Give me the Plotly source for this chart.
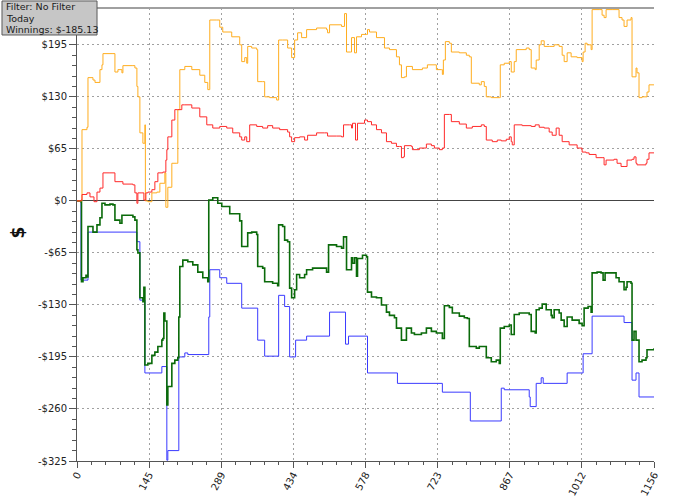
import plotly.graph_objects as go

# session data (x = hand number, y = dollars)
orange_x = [0, 8, 10, 20, 22, 32, 36, 46, 50, 52, 72, 76, 82, 90, 92, 112, 116, 120, 122, 126,
            132, 136, 137, 142, 150, 160, 166, 176, 178, 182, 190, 200, 202, 206, 216, 230, 246,
            256, 262, 266, 280, 286, 292, 310, 326, 330, 336, 340, 342, 350, 360, 362, 372, 376,
            386, 400, 404, 412, 422, 430, 436, 442, 450, 460, 480, 500, 502, 506, 530, 536, 540,
            548, 550, 556, 560, 570, 580, 582, 586, 600, 616, 626, 640, 646, 650, 656, 660, 672,
            692, 702, 720, 730, 732, 734, 738, 746, 750, 766, 780, 786, 790, 806, 810, 816, 820,
            830, 846, 848, 856, 866, 870, 876, 880, 900, 906, 910, 918, 920, 926, 930, 936, 946,
            956, 966, 972, 976, 982, 990, 1002, 1012, 1014, 1018, 1022, 1030, 1032, 1046, 1052,
            1056, 1060, 1072, 1086, 1092, 1096, 1102, 1110, 1112, 1120, 1122, 1126, 1132, 1142,
            1146, 1156]
orange_y = [0, 0, 89, 92, 154, 151, 148, 164, 170, 184, 184, 161, 164, 160, 169, 169, 166, 143, 130,
            85, 72, 95, 0, -1, 10, 11, 22, 35, -8, 17, 47, 47, 114, 164, 168, 164, 157, 148, 139,
            226, 226, 217, 211, 205, 195, 174, 179, 172, 193, 191, 189, 149, 149, 130, 129, 126,
            201, 201, 191, 179, 201, 210, 204, 214, 216, 214, 210, 220, 218, 234, 186, 186, 204,
            185, 205, 208, 208, 214, 211, 204, 191, 189, 180, 170, 154, 155, 168, 164, 166, 170,
            164, 164, 158, 176, 199, 197, 186, 185, 182, 180, 147, 145, 149, 143, 130, 129, 129,
            170, 172, 174, 161, 174, 189, 191, 189, 166, 164, 176, 195, 200, 193, 193, 195, 193,
            182, 174, 185, 180, 179, 174, 186, 197, 195, 189, 239, 239, 232, 229, 239, 239, 229,
            226, 218, 226, 229, 155, 166, 160, 129, 130, 136, 145, 145]

red_x = [0, 8, 10, 20, 26, 32, 34, 40, 46, 52, 66, 76, 92, 112, 116, 120, 122, 130, 134, 138, 142,
         150, 156, 162, 172, 178, 180, 182, 186, 190, 196, 202, 210, 216, 230, 246, 260, 272, 286,
         300, 312, 326, 330, 336, 340, 346, 360, 372, 382, 392, 406, 422, 426, 430, 436, 446, 456,
         462, 480, 496, 502, 520, 530, 534, 546, 550, 552, 558, 562, 576, 582, 590, 600, 610, 620,
         630, 640, 646, 650, 654, 656, 670, 672, 686, 700, 710, 716, 726, 732, 736, 746, 750, 766,
         780, 792, 810, 816, 820, 832, 842, 850, 860, 866, 870, 872, 876, 892, 910, 918, 926, 936,
         946, 952, 960, 966, 972, 986, 1002, 1012, 1020, 1026, 1040, 1052, 1056, 1060, 1076, 1082,
         1090, 1096, 1102, 1112, 1116, 1120, 1122, 1130, 1140, 1142, 1146, 1156]
red_y = [0, 1, 8, 10, 5, 5, -1, 11, 16, 35, 35, 24, 21, 20, 10, -3, 10, 10, 1, 10, 11, 14, 24, 35,
         36, 51, 64, 80, 80, 101, 114, 114, 120, 120, 116, 105, 95, 91, 93, 91, 85, 80, 76, 80, 74,
         95, 93, 91, 94, 91, 89, 86, 80, 74, 79, 80, 76, 82, 85, 85, 81, 81, 80, 95, 95, 91, 97, 76,
         97, 101, 99, 95, 89, 85, 74, 72, 68, 68, 54, 55, 69, 68, 64, 66, 71, 69, 66, 64, 66, 108,
         108, 99, 96, 91, 93, 95, 93, 76, 74, 76, 75, 77, 80, 74, 70, 95, 94, 93, 95, 92, 91, 86, 82,
         91, 82, 74, 70, 66, 61, 60, 58, 54, 54, 45, 51, 52, 47, 43, 43, 51, 52, 55, 47, 45, 45, 47,
         52, 60, 60]

green_x = [0, 8, 9, 12, 18, 20, 22, 32, 40, 46, 50, 56, 66, 72, 76, 86, 90, 100, 112, 116, 120, 122,
           126, 132, 134, 136, 142, 150, 156, 162, 170, 172, 174, 176, 180, 182, 186, 190, 196, 202,
           204, 206, 212, 222, 232, 242, 252, 262, 264, 272, 282, 290, 306, 326, 330, 340, 342, 350,
           360, 362, 372, 376, 392, 402, 404, 412, 416, 422, 426, 430, 436, 440, 446, 456, 460, 472,
           486, 500, 504, 520, 530, 534, 538, 540, 548, 550, 552, 556, 560, 562, 572, 580, 582, 590,
           600, 610, 620, 626, 636, 640, 646, 650, 656, 660, 670, 676, 690, 700, 710, 720, 730, 732,
           736, 746, 752, 766, 776, 782, 786, 800, 806, 812, 820, 830, 840, 846, 848, 856, 866, 870,
           876, 886, 900, 906, 910, 918, 920, 926, 932, 940, 950, 952, 956, 966, 970, 976, 982, 992,
           1006, 1012, 1016, 1024, 1030, 1032, 1042, 1050, 1054, 1058, 1070, 1080, 1086, 1092, 1096,
           1100, 1102, 1110, 1112, 1116, 1120, 1126, 1132, 1140, 1142, 1156]
green_y = [0, -1, -101, -96, -93, -95, -32, -39, -30, -21, -3, -5, -4, -5, -24, -28, -18, -18, -20,
           -24, -61, -65, -121, -126, -108, -205, -203, -193, -189, -182, -174, -172, -140, -150,
           -255, -232, -232, -203, -199, -196, -145, -82, -74, -76, -80, -89, -96, -101, 1, 4, -3,
           -7, -16, -25, -57, -57, -40, -39, -42, -82, -84, -101, -103, -106, -30, -32, -49, -51,
           -109, -121, -111, -92, -96, -92, -86, -84, -84, -89, -55, -57, -59, -45, -45, -86, -86,
           -71, -78, -71, -94, -72, -68, -70, -114, -120, -121, -130, -139, -143, -146, -159, -159,
           -174, -174, -159, -165, -167, -165, -159, -163, -165, -165, -172, -131, -133, -140, -144,
           -146, -147, -182, -184, -182, -182, -196, -201, -199, -203, -159, -157, -155, -167, -142,
           -140, -140, -142, -163, -165, -136, -134, -129, -136, -143, -146, -136, -140, -149, -157,
           -145, -149, -153, -156, -134, -132, -139, -90, -89, -90, -99, -90, -90, -96, -101, -101,
           -111, -108, -101, -103, -174, -163, -174, -201, -199, -196, -186, -184]

blue_x = [0, 8, 22, 120, 126, 136, 170, 180, 182, 204, 216, 222, 264, 266, 286, 300, 330, 362, 376,
          404, 416, 426, 438, 460, 506, 538, 544, 582, 642, 732, 788, 850, 856, 906, 908, 920, 930,
          934, 982, 1014, 1032, 1096, 1112, 1120, 1126, 1156]
blue_y = [0, -99, -39, -51, -124, -215, -207, -324, -312, -195, -190, -192, -145, -86, -96, -103,
          -134, -174, -194, -118, -132, -195, -174, -169, -139, -179, -169, -215, -228, -239, -275,
          -234, -236, -245, -257, -228, -221, -228, -215, -191, -144, -152, -224, -215, -245, -245]

x_tick_labels = ['0', '145', '289', '434', '578', '723', '867', '1012', '1156']
y_tick_values = [-325, -260, -195, -130, -65, 0, 65, 130, 195]
y_tick_labels = ['-$325', '-$260', '-$195', '-$130', '-$65', '$0', '$65', '$130', '$195']
info_lines = ['Filter: No Filter', 'Today', 'Winnings: $-185.13']

x_max = 1156
x_tick_values = [i * x_max / 8 for i in range(9)]
y_range = [-325, 241]

tick_font = dict(family='DejaVu Sans', size=10, color='#222222')
axis_col = '#555555'
grid_dash = '1.5px,3.5px'

fig = go.Figure()
fig.add_trace(go.Scatter(x=blue_x, y=blue_y, mode='lines', line_shape='hv',
                         line=dict(color='#3a3aff', width=1), name='blue'))
fig.add_trace(go.Scatter(x=green_x, y=green_y, mode='lines', line_shape='hv',
                         line=dict(color='#0a6a0a', width=1.6), name='green'))
fig.add_trace(go.Scatter(x=orange_x, y=orange_y, mode='lines', line_shape='hv',
                         line=dict(color='#ffad1f', width=1), name='orange'))
fig.add_trace(go.Scatter(x=red_x, y=red_y, mode='lines', line_shape='hv',
                         line=dict(color='#ff2a2a', width=1), name='red'))

fig.update_layout(
    width=700, height=499,
    margin=dict(l=77, r=46, t=8, b=38),
    paper_bgcolor='white', plot_bgcolor='white',
    showlegend=False,
    xaxis=dict(
        range=[0, x_max], tickmode='array', tickvals=x_tick_values, ticktext=x_tick_labels,
        tickangle=-62, tickfont=tick_font, automargin=False, ticklabelstandoff=-3,
        showgrid=True, gridcolor='#a0a0a0', griddash=grid_dash, gridwidth=1,
        showline=True, linecolor=axis_col, linewidth=1, zeroline=False,
        ticks='outside', ticklen=6, tickcolor=axis_col,
        minor=dict(ticks='outside', ticklen=3, tickcolor=axis_col,
                   tick0=0, dtick=x_max / 40, showgrid=False),
    ),
    xaxis2=dict(
        overlaying='x', matches='x', range=[0, x_max], anchor='y',
        tickmode='array', tickvals=x_tick_values, showticklabels=False,
        showgrid=False, zeroline=False, showline=False, mirror='ticks',
        ticks='inside', ticklen=5, tickcolor=axis_col, automargin=False,
        minor=dict(ticks='inside', ticklen=3, tickcolor=axis_col,
                   tick0=0, dtick=x_max / 40, showgrid=False),
    ),
    yaxis=dict(
        range=y_range, tickmode='array', tickvals=y_tick_values, ticktext=y_tick_labels,
        tickfont=tick_font, automargin=False,
        showgrid=True, gridcolor='#a0a0a0', griddash=grid_dash, gridwidth=1,
        zeroline=True, zerolinecolor='#444444', zerolinewidth=1,
        showline=True, linecolor=axis_col, linewidth=1,
        ticks='outside', ticklen=7, tickcolor=axis_col,
        minor=dict(ticks='outside', ticklen=4, tickcolor=axis_col,
                   tick0=0, dtick=13, showgrid=False),
    ),
    yaxis2=dict(
        overlaying='y', matches='y', side='right', anchor='x', range=y_range,
        tickmode='array', tickvals=y_tick_values, ticktext=y_tick_labels,
        tickfont=tick_font, automargin=False,
        showgrid=False, zeroline=False,
        showline=True, linecolor=axis_col, linewidth=1,
        ticks='outside', ticklen=7, tickcolor=axis_col,
        minor=dict(ticks='outside', ticklen=4, tickcolor=axis_col,
                   tick0=0, dtick=13, showgrid=False),
    ),
    yaxis3=dict(
        overlaying='y', matches='y', anchor='x', range=y_range,
        tickmode='array', tickvals=y_tick_values, showticklabels=False,
        showgrid=False, zeroline=False, showline=False, mirror='ticks',
        ticks='inside', ticklen=5, tickcolor=axis_col, automargin=False,
        minor=dict(ticks='inside', ticklen=4, tickcolor=axis_col,
                   tick0=0, dtick=13, showgrid=False),
    ),
)

# grey top border of the plot area
fig.add_shape(type='line', xref='paper', yref='paper', x0=0, x1=1, y0=1, y1=1,
              line=dict(color='#a0a0a0', width=2))

# "$" axis title
fig.add_annotation(text='<b>$</b>', xref='paper', yref='paper',
                   x=-0.102, y=0.505, xanchor='center', yanchor='middle',
                   textangle=-90, showarrow=False,
                   font=dict(family='DejaVu Sans', size=17, color='#111111'))

# info box, top left (paper coords: plot area is 577 x 453 px)
fig.add_shape(type='rect', xref='paper', yref='paper',
              x0=-0.130, x1=0.0347, y0=0.9404, y1=1.0155,
              fillcolor='#c6c6c6', line=dict(color='#5a5a5a', width=1), layer='above')
for i, txt in enumerate(info_lines):
    fig.add_annotation(text=txt, xref='paper', yref='paper',
                       x=-0.1265, y=1.0025 - i * 0.0250,
                       xanchor='left', yanchor='middle', align='left', showarrow=False,
                       font=dict(family='DejaVu Sans', size=9.5, color='#1a1a1a'))

# the page itself should not add a margin round the figure
fig.write_html("out.html", config={'displayModeBar': False},
               post_script="document.body.style.margin='0px';")
